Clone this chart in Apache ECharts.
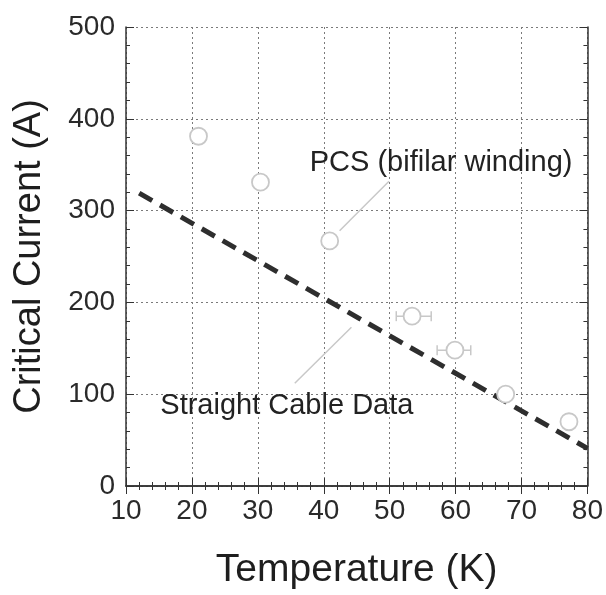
<!DOCTYPE html>
<html>
<head>
<meta charset="utf-8">
<script src="https://cdn.jsdelivr.net/npm/echarts@6/dist/echarts.min.js"></script>
<style>html,body{margin:0;padding:0;background:#fff;}#c{width:606px;height:595px;}</style>
</head>
<body>
<div id="c"></div>
<script>
// Data
var pcsT = [21.0, 30.4, 40.9, 53.4, 59.9, 67.6, 77.2];
var pcsIc = [381, 331, 267, 185, 148, 100, 70];
var errT = [53.4, 59.9];
var errIc = [185, 148];
var errLow = [51.0, 57.2];
var errHigh = [56.3, 62.3];
var cableT = [12, 80];
var cableIc = [319, 41];
var xTicks = [10, 20, 30, 40, 50, 60, 70, 80];
var yTicks = [0, 100, 200, 300, 400, 500];
var labelPCS = {text: 'PCS (bifilar winding)', x: 57.8, y: 352};
var leaderPCS = {x: [49.9, 42.4], y: [332, 278]};
var labelCable = {text: 'Straight Cable Data', x: 34.4, y: 87};
var leaderCable = {x: [44.2, 35.6], y: [173, 112]};

var font = 'Liberation Sans, Arial, Helvetica, sans-serif';
var chart = echarts.init(document.getElementById('c'));

function zip(a, b) { return a.map(function (v, i) { return [v, b[i]]; }); }

var boxAxisCommon = {
  axisLine: {show: true, lineStyle: {color: '#333', width: 1.5}},
  axisTick: {show: true, inside: true, length: 8, lineStyle: {color: '#333'}},
  minorTick: {show: true, splitNumber: 5, length: 4, lineStyle: {color: '#333'}},
  axisLabel: {show: false},
  splitLine: {show: false}
};

var option = {
  animation: false,
  backgroundColor: '#fff',
  grid: {left: 126, right: 17, top: 27, bottom: 107, containLabel: false},
  xAxis: [{
    type: 'value', min: xTicks[0], max: xTicks[xTicks.length - 1], interval: 10,
    name: 'Temperature (K)', nameLocation: 'middle', nameGap: 65,
    nameTextStyle: {fontFamily: font, fontSize: 39, color: '#1e1e1e'},
    axisLine: {show: true, lineStyle: {color: '#333', width: 1.5}},
    axisTick: {show: true, inside: true, length: 8, lineStyle: {color: '#333'}},
    minorTick: {show: true, splitNumber: 5, length: 4, lineStyle: {color: '#333'}},
    axisLabel: {fontFamily: font, fontSize: 28, color: '#2a2a2a', margin: 11},
    splitLine: {show: true, lineStyle: {color: '#7a7a7a', type: [2, 3], width: 1}}
  }, Object.assign({type: 'value', position: 'top', min: xTicks[0], max: xTicks[xTicks.length - 1], interval: 10}, boxAxisCommon)],
  yAxis: [{
    type: 'value', min: yTicks[0], max: yTicks[yTicks.length - 1], interval: 100,
    name: 'Critical Current (A)', nameLocation: 'middle', nameGap: 77,
    nameTextStyle: {fontFamily: font, fontSize: 38, color: '#1e1e1e'},
    axisLine: {show: true, lineStyle: {color: '#333', width: 1.5}},
    axisTick: {show: true, inside: true, length: 8, lineStyle: {color: '#333'}},
    minorTick: {show: true, splitNumber: 5, length: 4, lineStyle: {color: '#333'}},
    axisLabel: {fontFamily: font, fontSize: 28, color: '#2a2a2a', margin: 11},
    splitLine: {show: true, lineStyle: {color: '#7a7a7a', type: [2, 3], width: 1}}
  }, Object.assign({type: 'value', position: 'right', min: yTicks[0], max: yTicks[yTicks.length - 1], interval: 100}, boxAxisCommon)],
  series: [
    {
      type: 'line', data: zip(cableT, cableIc), symbol: 'none', z: 5,
      lineStyle: {color: '#2e2e2e', width: 5, type: [15, 9], cap: 'butt'}
    },
    {
      type: 'custom', z: 3,
      data: errT.map(function (t, i) { return [t, errIc[i], errLow[i], errHigh[i]]; }),
      renderItem: function (params, api) {
        var y = api.value(1);
        var l = api.coord([api.value(2), y]);
        var r = api.coord([api.value(3), y]);
        var st = {stroke: '#c8c8c8', lineWidth: 1.5};
        return {type: 'group', children: [
          {type: 'line', shape: {x1: l[0], y1: l[1], x2: r[0], y2: r[1]}, style: st},
          {type: 'line', shape: {x1: l[0], y1: l[1] - 5, x2: l[0], y2: l[1] + 5}, style: st},
          {type: 'line', shape: {x1: r[0], y1: r[1] - 5, x2: r[0], y2: r[1] + 5}, style: st}
        ]};
      }
    },
    {
      type: 'scatter', data: zip(pcsT, pcsIc), symbol: 'circle', symbolSize: 17, z: 6,
      itemStyle: {color: '#fff', borderColor: '#c8c8c8', borderWidth: 1.8, opacity: 1}
    },
    {
      type: 'line', data: zip(leaderPCS.x, leaderPCS.y), symbol: 'none', z: 4,
      lineStyle: {color: '#c8c8c8', width: 1.5}
    },
    {
      type: 'line', data: zip(leaderCable.x, leaderCable.y), symbol: 'none', z: 4,
      lineStyle: {color: '#c8c8c8', width: 1.5}
    },
    {
      type: 'scatter', symbolSize: 0, z: 7, silent: true,
      itemStyle: {opacity: 1},
      data: [
        {value: [labelPCS.x, labelPCS.y], label: {formatter: labelPCS.text}},
        {value: [labelCable.x, labelCable.y], label: {formatter: labelCable.text}}
      ],
      label: {show: true, position: 'inside', fontFamily: font, fontSize: 29, color: '#222', textBorderWidth: 0, textBorderColor: 'transparent'}
    }
  ]
};
chart.setOption(option);
</script>
</body>
</html>
